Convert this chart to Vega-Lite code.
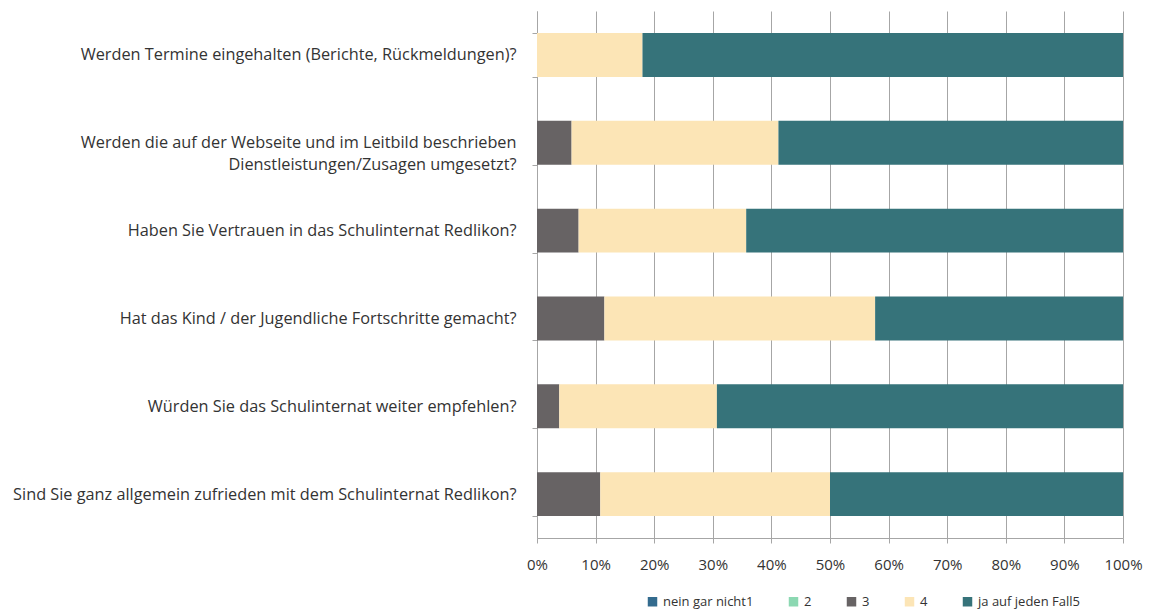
{
  "$schema": "https://vega.github.io/schema/vega-lite/v6.json",
  "width": 586,
  "height": 527,
  "autosize": "none",
  "padding": {"left": 537, "top": 11, "right": 26, "bottom": 75},
  "background": "white",
  "config": {
    "view": {"stroke": null},
    "font": "Open Sans"
  },
  "data": {
    "values": [
      {"q": "Werden Termine eingehalten (Berichte, Rückmeldungen)?", "o": 1, "k": "nein gar nicht1", "r": 1, "v": 0},
      {"q": "Werden Termine eingehalten (Berichte, Rückmeldungen)?", "o": 1, "k": "2", "r": 2, "v": 0},
      {"q": "Werden Termine eingehalten (Berichte, Rückmeldungen)?", "o": 1, "k": "3", "r": 3, "v": 0},
      {"q": "Werden Termine eingehalten (Berichte, Rückmeldungen)?", "o": 1, "k": "4", "r": 4, "v": 18.0},
      {"q": "Werden Termine eingehalten (Berichte, Rückmeldungen)?", "o": 1, "k": "ja auf jeden Fall5", "r": 5, "v": 82.0},
      {"q": "Werden die auf der Webseite und im Leitbild beschrieben|Dienstleistungen/Zusagen umgesetzt?", "o": 2, "k": "nein gar nicht1", "r": 1, "v": 0},
      {"q": "Werden die auf der Webseite und im Leitbild beschrieben|Dienstleistungen/Zusagen umgesetzt?", "o": 2, "k": "2", "r": 2, "v": 0},
      {"q": "Werden die auf der Webseite und im Leitbild beschrieben|Dienstleistungen/Zusagen umgesetzt?", "o": 2, "k": "3", "r": 3, "v": 5.9},
      {"q": "Werden die auf der Webseite und im Leitbild beschrieben|Dienstleistungen/Zusagen umgesetzt?", "o": 2, "k": "4", "r": 4, "v": 35.3},
      {"q": "Werden die auf der Webseite und im Leitbild beschrieben|Dienstleistungen/Zusagen umgesetzt?", "o": 2, "k": "ja auf jeden Fall5", "r": 5, "v": 58.8},
      {"q": "Haben Sie Vertrauen in das Schulinternat Redlikon?", "o": 3, "k": "nein gar nicht1", "r": 1, "v": 0},
      {"q": "Haben Sie Vertrauen in das Schulinternat Redlikon?", "o": 3, "k": "2", "r": 2, "v": 0},
      {"q": "Haben Sie Vertrauen in das Schulinternat Redlikon?", "o": 3, "k": "3", "r": 3, "v": 7.1},
      {"q": "Haben Sie Vertrauen in das Schulinternat Redlikon?", "o": 3, "k": "4", "r": 4, "v": 28.6},
      {"q": "Haben Sie Vertrauen in das Schulinternat Redlikon?", "o": 3, "k": "ja auf jeden Fall5", "r": 5, "v": 64.3},
      {"q": "Hat das Kind / der Jugendliche Fortschritte gemacht?", "o": 4, "k": "nein gar nicht1", "r": 1, "v": 0},
      {"q": "Hat das Kind / der Jugendliche Fortschritte gemacht?", "o": 4, "k": "2", "r": 2, "v": 0},
      {"q": "Hat das Kind / der Jugendliche Fortschritte gemacht?", "o": 4, "k": "3", "r": 3, "v": 11.5},
      {"q": "Hat das Kind / der Jugendliche Fortschritte gemacht?", "o": 4, "k": "4", "r": 4, "v": 46.2},
      {"q": "Hat das Kind / der Jugendliche Fortschritte gemacht?", "o": 4, "k": "ja auf jeden Fall5", "r": 5, "v": 42.3},
      {"q": "Würden Sie das Schulinternat weiter empfehlen?", "o": 5, "k": "nein gar nicht1", "r": 1, "v": 0},
      {"q": "Würden Sie das Schulinternat weiter empfehlen?", "o": 5, "k": "2", "r": 2, "v": 0},
      {"q": "Würden Sie das Schulinternat weiter empfehlen?", "o": 5, "k": "3", "r": 3, "v": 3.8},
      {"q": "Würden Sie das Schulinternat weiter empfehlen?", "o": 5, "k": "4", "r": 4, "v": 26.9},
      {"q": "Würden Sie das Schulinternat weiter empfehlen?", "o": 5, "k": "ja auf jeden Fall5", "r": 5, "v": 69.3},
      {"q": "Sind Sie ganz allgemein zufrieden mit dem Schulinternat Redlikon?", "o": 6, "k": "nein gar nicht1", "r": 1, "v": 0},
      {"q": "Sind Sie ganz allgemein zufrieden mit dem Schulinternat Redlikon?", "o": 6, "k": "2", "r": 2, "v": 0},
      {"q": "Sind Sie ganz allgemein zufrieden mit dem Schulinternat Redlikon?", "o": 6, "k": "3", "r": 3, "v": 10.8},
      {"q": "Sind Sie ganz allgemein zufrieden mit dem Schulinternat Redlikon?", "o": 6, "k": "4", "r": 4, "v": 39.2},
      {"q": "Sind Sie ganz allgemein zufrieden mit dem Schulinternat Redlikon?", "o": 6, "k": "ja auf jeden Fall5", "r": 5, "v": 50.0}
    ]
  },
  "mark": {"type": "bar"},
  "encoding": {
    "y": {
      "field": "q",
      "type": "nominal",
      "sort": {"field": "o"},
      "scale": {"paddingInner": 0.5, "paddingOuter": 0.25},
      "axis": {
        "title": null,
        "labelExpr": "split(datum.label, '|')",
        "labelFontSize": 16.3,
        "labelFont": "Open Sans",
        "labelColor": "#333333",
        "labelLimit": 600,
        "labelPadding": 16,
        "labelLineHeight": 22,
        "tickBand": "extent",
        "tickColor": "#a6a6a6",
        "tickSize": 5,
        "domainColor": "#a6a6a6",
        "grid": false
      }
    },
    "x": {
      "field": "v",
      "type": "quantitative",
      "stack": "normalize",
      "scale": {"domain": [0, 1], "nice": false},
      "axis": {
        "title": null,
        "format": "%",
        "values": [0, 0.1, 0.2, 0.3, 0.4, 0.5, 0.6, 0.7, 0.8, 0.9, 1],
        "labelOverlap": false,
        "labelFontSize": 15,
        "labelFont": "Open Sans",
        "labelColor": "#333333",
        "labelPadding": 14,
        "tickColor": "#a6a6a6",
        "tickSize": 5,
        "domainColor": "#a6a6a6",
        "grid": true,
        "gridColor": "#a6a6a6",
        "labelFlush": false
      }
    },
    "color": {
      "field": "k",
      "type": "nominal",
      "sort": ["nein gar nicht1", "2", "3", "4", "ja auf jeden Fall5"],
      "scale": {
        "domain": ["nein gar nicht1", "2", "3", "4", "ja auf jeden Fall5"],
        "range": ["#336b8e", "#8cd8b2", "#676364", "#fce5b6", "#36737a"]
      },
      "legend": {
        "title": null,
        "orient": "none",
        "legendX": 109,
        "legendY": 584,
        "direction": "horizontal",
        "symbolType": "square",
        "symbolSize": 90,
        "symbolStrokeWidth": 0,
        "labelFontSize": 13,
        "labelFont": "Open Sans",
        "labelColor": "#333333",
        "columnPadding": 33,
        "labelOffset": 4
      }
    },
    "order": {"field": "r", "type": "quantitative"}
  }
}
